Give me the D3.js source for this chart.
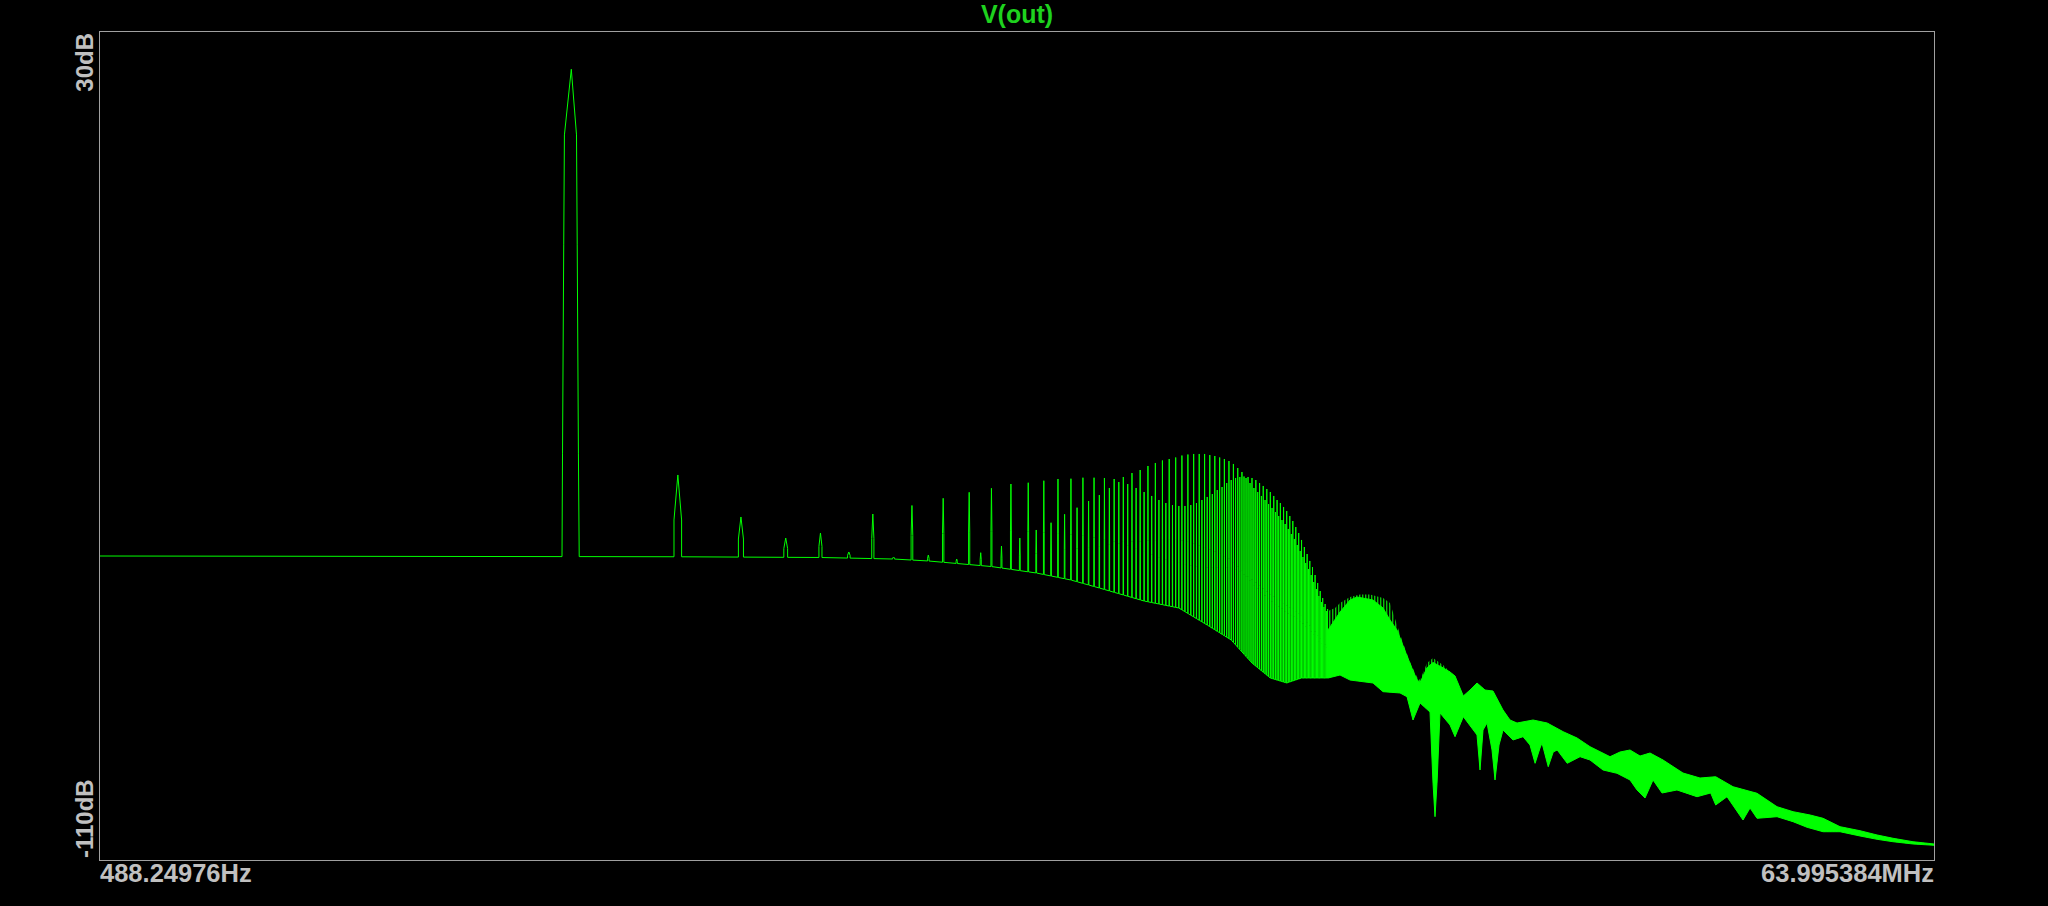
<!DOCTYPE html>
<html><head><meta charset="utf-8">
<script src="https://cdn.jsdelivr.net/npm/d3@7/dist/d3.min.js"></script>
<style>html,body{margin:0;padding:0;background:#000;overflow:hidden}</style>
</head><body><svg id="c" width="2048" height="906"></svg>
<script>
// ---------------- data ----------------
const title = "V(out)";
const xTickLabels = ["488.24976Hz", "63.995384MHz"];
const yTickLabels = ["30dB", "-110dB"];
const xDomain = [488.24976, 63995384];
const yDomain = [-110, 30];
const fundamentalHz = 10000;
const binHz = 488.24976;

// fundamental line shape (Hz, dB)
const fundShapeHz = [9502, 9533, 9607, 9650, 10087, 10430, 10477, 10558, 10612];
const fundShapeDb = [-58.7, -41.2, -6.0, 12.6, 23.7, 12.6, -6.0, -41.2, -58.7];

// odd harmonic peaks, n = 3,5,7,...,129 (dB)
const oddHarmonicDb = [
  -52.00, -54.71, -51.50, -50.06, -48.84, -47.83, -47.15, -46.43, -46.21, -45.87,
  -45.58, -45.53, -45.36, -45.36, -45.41, -45.58, -45.24, -44.57, -44.06, -43.38,
  -42.87, -42.45, -42.20, -41.94, -41.61, -41.44, -41.35, -41.35, -41.35, -41.52,
  -41.69, -41.94, -42.20, -42.54, -43.04, -43.72, -44.40, -45.41, -46.26, -47.10,
  -47.78, -48.45, -49.13, -49.81, -50.48, -51.16, -51.84, -52.51, -53.19, -54.03,
  -54.88, -55.72, -56.74, -57.75, -58.77, -59.78, -60.80, -61.81, -63.00, -64.18,
  -65.36, -66.38, -67.22, -67.90
];
// even harmonic peaks, n = 2,4,6,...,130 (dB)
const evenHarmonicDb = [
  -44.90, -55.56, -57.92, -58.77, -58.43, -59.11, -58.04, -56.91, -55.56, -54.20,
  -52.97, -51.55, -50.43, -49.30, -48.29, -47.10, -46.09, -46.43, -47.10, -47.78,
  -48.45, -49.13, -49.64, -49.98, -50.14, -50.14, -49.98, -49.64, -49.13, -48.62,
  -48.12, -47.44, -46.93, -46.26, -45.75, -45.41, -45.24, -45.16, -45.24, -45.41,
  -45.75, -46.26, -46.76, -47.27, -47.78, -48.45, -49.13, -49.64, -50.31, -50.99,
  -51.84, -52.68, -53.70, -54.71, -55.89, -57.08, -58.26, -59.44, -60.46, -61.81,
  -63.16, -64.52, -65.70, -66.72, -67.56
];

// floor between the lines (Hz, dB)
const floorHz = [488.25, 10000, 20000, 50000, 80000, 100000, 150000, 200000, 250000,
  300000, 400000, 500000, 600000, 700000, 800000, 900000, 1000000, 1100000, 1303900];
const floorDb = [-58.60, -58.68, -58.73, -58.85, -59.11, -59.44, -60.38, -61.47, -62.66,
  -64.01, -66.21, -67.39, -70.27, -72.80, -76.69, -79.23, -80.07, -79.23, -79.23];

// dense part above ~1.3 MHz: outer (line tips) upper edge and lower edge of the band
const bandTopMHz = [1.3039, 1.3639, 1.4084, 1.5019, 1.6016, 1.7079, 1.8567, 1.9421, 2.0313, 2.1111,
  2.2083, 2.3098, 2.3548, 2.4631, 2.5599, 2.7298, 2.8555, 2.9488, 3.1104, 3.2470,
  3.3964, 3.5755, 3.7642, 4.0139, 4.1985, 4.3918, 4.8680, 5.3325, 5.9099, 6.4584,
  7.0197, 7.9828, 8.5123, 9.0769, 9.6792, 10.3215, 11.2209, 12.7570, 14.2300, 15.7393,
  17.5943, 20.5277, 23.3430, 25.8701, 28.8585, 31.3732, 34.9927, 39.7893, 44.3818, 49.1840,
  55.9106, 64.0];
const bandTopDb = [-67.90, -67.39, -66.55, -65.53, -65.11, -65.11, -65.70, -66.55, -70.27, -73.31,
  -76.52, -79.06, -79.57, -76.69, -75.85, -77.03, -78.21, -78.89, -82.27, -81.26,
  -80.07, -81.26, -81.43, -84.64, -86.33, -86.84, -86.33, -86.84, -88.31, -89.37,
  -90.84, -92.53, -91.74, -91.40, -92.42, -91.91, -93.09, -95.29, -96.14, -95.92,
  -97.61, -98.72, -100.99, -101.83, -102.39, -102.95, -104.37, -105.05, -105.77, -106.33,
  -106.91, -107.29];
// upper edge of the solid (bright) part where it lies below the line tips
const innerTopMHz = [1.3039, 1.4084, 1.5019, 1.5710, 1.7411, 1.8567, 1.9421, 2.0313, 2.1661, 2.2512,
  2.3098, 2.3548, 2.4631, 2.5599, 2.7298];
const innerTopDb = [-71.11, -68.07, -66.04, -65.53, -66.04, -67.39, -69.42, -71.11, -75.50, -78.00,
  -79.50, -80.00, -77.50, -76.60, -77.50];
const bandBotMHz = [1.3039, 1.4084, 1.5019, 1.7411, 1.8567, 2.0708, 2.1661, 2.2512, 2.3548, 2.5110,
  2.5599, 2.5931, 2.6267, 2.6778, 2.8555, 2.9488, 3.1104, 3.3964, 3.4625, 3.5296,
  3.6219, 3.7400, 3.8128, 3.9121, 4.0139, 4.2802, 4.5644, 4.7745, 4.9326, 5.0910,
  5.1568, 5.3670, 5.5421, 5.6864, 6.0639, 6.5840, 7.0197, 7.6311, 8.3501, 9.0769,
  9.4945, 9.9955, 10.5223, 11.1496, 12.2747, 13.9585, 15.2412, 15.7393, 16.9290, 18.7616,
  19.6247, 20.5277, 23.3430, 25.8701, 28.3078, 31.3732, 34.9927, 39.7893, 44.3818, 49.1840,
  55.9106, 64.0];
const bandBotDb = [-79.23, -78.72, -79.57, -80.07, -81.54, -81.76, -82.39, -86.33, -83.45, -84.98,
  -97.00, -102.68, -97.00, -85.14, -87.17, -89.15, -85.77, -88.86, -94.78, -88.02,
  -86.84, -91.40, -96.47, -90.56, -88.02, -89.71, -89.15, -90.56, -93.65, -91.06,
  -90.22, -94.22, -91.74, -91.40, -93.65, -92.53, -93.09, -94.78, -95.34, -96.47,
  -98.16, -99.52, -96.47, -98.67, -98.16, -99.30, -98.67, -100.70, -99.30, -103.24,
  -101.21, -102.95, -102.68, -103.52, -104.47, -105.22, -105.22, -105.94, -106.50, -106.91,
  -107.29, -107.51];

// ---------------- drawing ----------------
const W = 2048, H = 906;
const P = { l: 100, r: 1934, t: 32, b: 860 };
const TRACE = "#00ff00";
const LABEL = "#c0c0c0";
const FONT = "'Liberation Sans', Arial, sans-serif";

const x = d3.scaleLog().domain(xDomain).range([P.l, P.r]);
const y = d3.scaleLinear().domain(yDomain).range([P.b, P.t]);
const floorAt = d3.scaleLog().domain(floorHz).range(floorDb).clamp(true);

const svg = d3.select("#c");
svg.append("rect").attr("width", W).attr("height", H).attr("fill", "#000");
const defs = svg.append("defs");
defs.append("clipPath").attr("id", "clip")
  .append("rect").attr("x", P.l).attr("y", P.t).attr("width", P.r - P.l).attr("height", P.b - P.t);
const pat = defs.append("pattern").attr("id", "stripes").attr("patternUnits", "userSpaceOnUse")
  .attr("width", 3).attr("height", 8);
pat.append("rect").attr("width", 3).attr("height", 8).attr("fill", "#000");
pat.append("rect").attr("width", 1.4).attr("height", 8).attr("fill", "#0bbf0b");

// build the trace from the harmonic data
const harmonics = [];
oddHarmonicDb.forEach((db, i) => harmonics.push({ n: 3 + 2 * i, db }));
evenHarmonicDb.forEach((db, i) => harmonics.push({ n: 2 + 2 * i, db }));
harmonics.sort((a, b) => a.n - b.n);

const PED = 0.45; // pedestal height fraction of each line
const ranges = [[fundShapeHz[0], fundShapeHz[fundShapeHz.length - 1]]];
let pts = [];
fundShapeHz.forEach((f, i) => pts.push({ f, db: fundShapeDb[i], k: i }));
harmonics.forEach(h => {
  const f = h.n * fundamentalHz, lo = f - binHz, hi = f + binHz;
  const fl = floorAt(lo), fh = floorAt(hi);
  ranges.push([lo, hi]);
  pts.push({ f: lo, db: fl, k: 0 }, { f: lo, db: fl + PED * (h.db - fl), k: 1 },
           { f, db: h.db, k: 2 },
           { f: hi, db: fh + PED * (h.db - fh), k: 3 }, { f: hi, db: fh, k: 4 });
});
floorHz.forEach((f, i) => {
  if (!ranges.some(r => f >= r[0] && f <= r[1])) pts.push({ f, db: floorDb[i], k: 0 });
});
pts.sort((a, b) => a.f - b.f || a.k - b.k);

const line = d3.line().x(d => x(d.f)).y(d => y(d.db));
const g = svg.append("g").attr("clip-path", "url(#clip)");

// dense band: striped outer layer (line tips) then solid layer
const bottom = bandBotMHz.map((f, i) => ({ f: f * 1e6, db: bandBotDb[i] })).reverse();
const outerTop = bandTopMHz.map((f, i) => ({ f: f * 1e6, db: bandTopDb[i] }));
const innerEnd = innerTopMHz[innerTopMHz.length - 1];
const innerTop = innerTopMHz.map((f, i) => ({ f: f * 1e6, db: innerTopDb[i] }))
  .concat(bandTopMHz.map((f, i) => ({ f: f * 1e6, db: bandTopDb[i] })).filter(d => d.f > innerEnd * 1e6));
g.append("path").attr("d", line(outerTop.concat(bottom)) + "Z")
  .attr("fill", "url(#stripes)").attr("stroke", "none");
g.append("path").attr("d", line(innerTop.concat(bottom)) + "Z")
  .attr("fill", TRACE).attr("stroke", TRACE).attr("stroke-width", 1);

g.append("path").attr("d", line(pts))
  .attr("fill", "none").attr("stroke", TRACE).attr("stroke-width", 1);

// frame
svg.append("rect").attr("x", P.l - 0.5).attr("y", P.t - 0.5)
  .attr("width", P.r - P.l + 1).attr("height", P.b - P.t + 1)
  .attr("fill", "none").attr("stroke", "#a0a0a0").attr("stroke-width", 1);

// title
svg.append("text").attr("x", (P.l + P.r) / 2).attr("y", 23)
  .attr("text-anchor", "middle").attr("fill", "#1ed21e")
  .attr("font-family", FONT).attr("font-weight", "bold").attr("font-size", 25)
  .text(title);

// x labels
svg.append("text").attr("x", P.l).attr("y", 882)
  .attr("text-anchor", "start").attr("fill", LABEL)
  .attr("font-family", FONT).attr("font-weight", "bold").attr("font-size", 25.5)
  .text(xTickLabels[0]);
svg.append("text").attr("x", P.r).attr("y", 882)
  .attr("text-anchor", "end").attr("fill", LABEL)
  .attr("font-family", FONT).attr("font-weight", "bold").attr("font-size", 25.5)
  .text(xTickLabels[1]);

// y labels (rotated)
svg.append("text").attr("transform", `translate(93,${P.t + 1}) rotate(-90)`)
  .attr("text-anchor", "end").attr("fill", LABEL)
  .attr("font-family", FONT).attr("font-weight", "bold").attr("font-size", 24)
  .text(yTickLabels[0]);
svg.append("text").attr("transform", `translate(93,${P.b - 2}) rotate(-90)`)
  .attr("text-anchor", "start").attr("fill", LABEL)
  .attr("font-family", FONT).attr("font-weight", "bold").attr("font-size", 24)
  .text(yTickLabels[1]);
</script></body></html>
